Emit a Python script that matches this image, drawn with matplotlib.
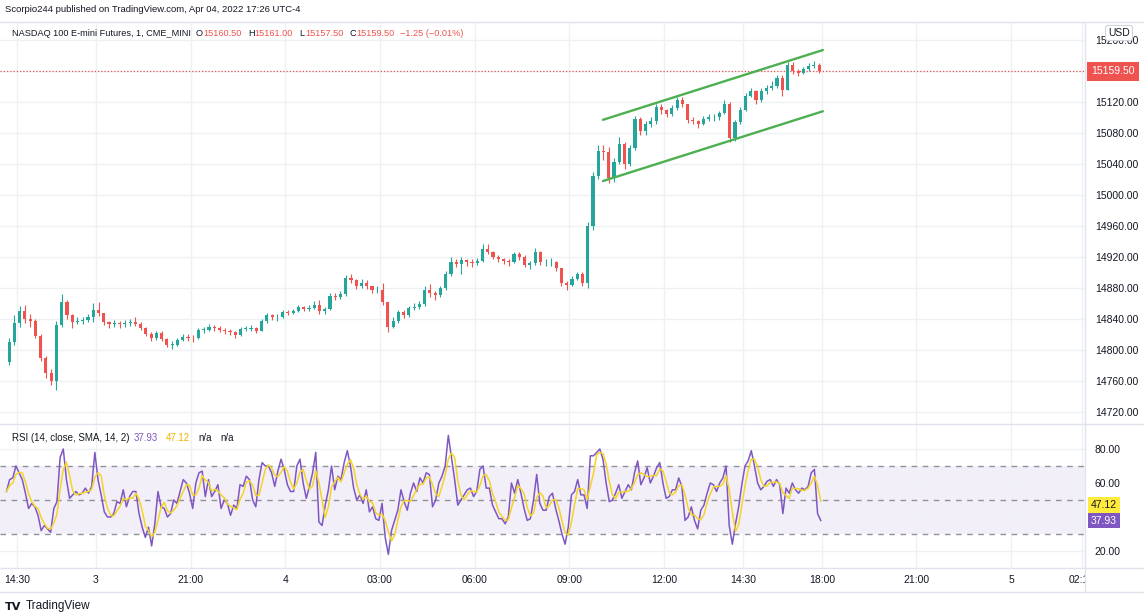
import numpy as np
import pandas as pd
import matplotlib
matplotlib.use("Agg")
import matplotlib.pyplot as plt
from matplotlib.lines import Line2D
from matplotlib.patches import Rectangle

plt.rcParams['font.family'] = ['Liberation Sans', 'DejaVu Sans']

# ---------------- data ----------------
publish_line = "Scorpio244 published on TradingView.com, Apr 04, 2022 17:26 UTC-4"
symbol_title = "NASDAQ 100 E-mini Futures, 1, CME_MINI"
ohlc_last = ["15160.50", "15161.00", "15157.50", "15159.50"]
change_text = "\u22121.25 (\u22120.01%)"
last_price = 15159.50

# 10-minute candles, time in session minutes from Fri 14:30 (weekend gap removed)
bar_minutes = 10
first_bar_start = -20
first_open = 14784
closes = [
    14810, 14835, 14850, 14840, 14838, 14818, 14790, 14770, 14760, 14832,
    14862, 14845, 14836, 14838, 14839, 14843, 14852, 14848, 14836, 14834,
    14835, 14833, 14835, 14836, 14834, 14829, 14821, 14815, 14822, 14814,
    14807, 14807, 14813, 14817, 14816, 14815, 14826, 14826, 14830, 14828,
    14826, 14825, 14823, 14819, 14827, 14827, 14828, 14825, 14837, 14845,
    14842, 14842, 14849, 14848, 14850, 14855, 14853, 14854, 14858, 14850,
    14853, 14870, 14869, 14872, 14893, 14890, 14882, 14887, 14882, 14877,
    14878, 14862, 14830, 14838, 14849, 14845, 14854, 14856, 14859, 14878,
    14874, 14871, 14880, 14898, 14914, 14911, 14916, 14913, 14912, 14915,
    14930, 14927, 14920, 14917, 14915, 14914, 14924, 14920, 14910, 14912,
    14927, 14913, 14913, 14913, 14906, 14887, 14884, 14892, 14898, 14887,
    14960, 15025, 15057, 15055, 15022, 15043, 15066, 15040, 15060, 15098,
    15083, 15091, 15095, 15114, 15110, 15104, 15112, 15123, 15117, 15097,
    15095, 15091, 15098, 15100, 15101, 15106, 15118, 15073, 15094, 15110,
    15128, 15134, 15122, 15134, 15138, 15141, 15151, 15136, 15168, 15160,
    15157, 15162, 15166, 15168, 15159.5,
]
highs = [
    14815, 14845, 14857, 14858, 14846, 14840, 14820, 14792, 14776, 14838,
    14872, 14864, 14846, 14843, 14843, 14846, 14860, 14862, 14848, 14838,
    14839, 14838, 14839, 14840, 14842, 14836, 14830, 14823, 14825, 14824,
    14816, 14811, 14816, 14821, 14820, 14819, 14829, 14830, 14834, 14832,
    14831, 14829, 14827, 14824, 14830, 14831, 14832, 14830, 14840, 14848,
    14847, 14846, 14852, 14852, 14853, 14858, 14857, 14858, 14863, 14864,
    14856, 14873, 14874, 14876, 14897, 14898, 14892, 14891, 14890, 14883,
    14882, 14887, 14862, 14842, 14852, 14852, 14857, 14860, 14863, 14882,
    14885, 14876, 14883, 14902, 14920, 14917, 14920, 14918, 14917, 14919,
    14937, 14937, 14928, 14922, 14919, 14917, 14927, 14926, 14922, 14915,
    14931, 14928, 14917, 14919, 14915, 14906, 14889, 14896, 14901, 14901,
    14965, 15030, 15064, 15065, 15062, 15048, 15075, 15068, 15064, 15102,
    15100, 15095, 15100, 15118, 15117, 15111, 15116, 15127, 15127, 15118,
    15100, 15097, 15102, 15104, 15105, 15109, 15122, 15120, 15097, 15114,
    15132, 15138, 15136, 15138, 15142, 15147, 15155, 15155, 15172, 15171,
    15162, 15165, 15170, 15173, 15170,
]
lows = [
    14780, 14806, 14830, 14835, 14830, 14815, 14786, 14764, 14755, 14749,
    14830, 14840, 14829, 14833, 14834, 14836, 14836, 14844, 14832, 14829,
    14830, 14829, 14830, 14831, 14831, 14826, 14818, 14812, 14813, 14811,
    14804, 14801, 14805, 14811, 14812, 14810, 14814, 14822, 14825, 14824,
    14823, 14821, 14819, 14816, 14818, 14824, 14825, 14822, 14824, 14835,
    14839, 14838, 14841, 14845, 14846, 14849, 14850, 14850, 14853, 14847,
    14847, 14852, 14865, 14866, 14870, 14886, 14879, 14880, 14879, 14873,
    14873, 14858, 14823, 14828, 14835, 14841, 14843, 14851, 14853, 14857,
    14869, 14864, 14869, 14877, 14896, 14907, 14898, 14909, 14907, 14910,
    14913, 14924, 14917, 14914, 14911, 14909, 14912, 14916, 14907, 14905,
    14910, 14910, 14909, 14909, 14902, 14883, 14878, 14882, 14890, 14882,
    14880, 14955, 15020, 15045, 15015, 15017, 15040, 15033, 15038, 15058,
    15078, 15078, 15088, 15092, 15105, 15100, 15102, 15110, 15113, 15093,
    15091, 15087, 15090, 15095, 15096, 15097, 15105, 15068, 15070, 15092,
    15108, 15126, 15118, 15120, 15130, 15136, 15138, 15128, 15136, 15156,
    15154, 15156, 15160, 15164, 15157.5,
]

# rising channel (trend lines drawn by the author)
channel_times = [1114, 1532]
channel_upper = [15097, 15187]
channel_lower = [15018, 15108]

# RSI sampled every 6 minutes
rsi_step = 6
rsi_start = -20
rsi_values = [
    55, 62, 63, 70, 66, 62, 54, 45, 48, 46,
    41, 32, 35, 33, 31, 45, 49, 75, 80, 62,
    51, 53, 55, 53, 54, 57, 54, 58, 78, 62,
    53, 43, 40, 40, 42, 49, 48, 56, 46, 52,
    55, 55, 42, 34, 28, 34, 23, 36, 55, 46,
    45, 40, 42, 50, 48, 55, 62, 60, 54, 45,
    60, 66, 67, 52, 62, 52, 55, 59, 45, 50,
    48, 41, 47, 45, 59, 58, 64, 62, 50, 46,
    62, 72, 70, 70, 66, 58, 67, 74, 68, 59,
    55, 55, 70, 74, 60, 51, 58, 66, 78, 37,
    35, 47, 56, 70, 56, 64, 62, 72, 79, 70,
    57, 50, 53, 48, 56, 43, 46, 39, 38, 48,
    28, 18, 32, 38, 44, 56, 49, 44, 54, 60,
    55, 63, 60, 66, 65, 46, 50, 60, 64, 70,
    88, 75, 62, 47, 50, 53, 56, 57, 52, 55,
    68, 70, 57, 57, 47, 43, 39, 39, 36, 40,
    60, 54, 62, 54, 45, 38, 39, 50, 65, 48,
    44, 44, 52, 54, 45, 38, 30, 24, 34, 53,
    55, 62, 53, 53, 45, 76, 76, 78, 80, 74,
    60, 49, 50, 54, 59, 51, 55, 59, 56, 66,
    73, 59, 63, 69, 60, 64, 69, 72, 60, 51,
    52, 56, 56, 63, 58, 38, 40, 46, 38, 33,
    44, 47, 54, 60, 59, 55, 60, 63, 70, 35,
    24, 36, 46, 59, 70, 73, 79, 70, 60, 56,
    58, 61, 62, 58, 62, 59, 42, 57, 54, 60,
    56, 54, 57, 56, 58, 66, 68, 42, 37.93,
]
sma_window = 3
rsi_last_text = "37.93"
sma_last_text = "47.12"
sma_last = 47.12
rsi_last = 37.93
rsi_title = "RSI (14, close, SMA, 14, 2)"

price_ticks = [14720, 14760, 14800, 14840, 14880, 14920, 14960,
               15000, 15040, 15080, 15120, 15160, 15200]
price_tick_labels = ["14720.00", "14760.00", "14800.00", "14840.00", "14880.00",
                     "14920.00", "14960.00", "15000.00", "15040.00", "15080.00",
                     "15120.00", "", "15200.00"]
rsi_ticks = [20, 40, 60, 80]
rsi_tick_labels = ["20.00", "", "60.00", "80.00"]
rsi_levels = [70, 50, 30]

time_ticks = [0, 150, 330, 510, 690, 870, 1050, 1230, 1380, 1530, 1710, 1890, 2025]
time_labels = ["14:30", "3", "21:00", "4", "03:00", "06:00", "09:00", "12:00",
               "14:30", "18:00", "21:00", "5", "02:15"]

# ---------------- style ----------------
UP, DOWN = '#26a69a', '#ef5350'
TXT = '#131722'
GRID = '#eef0f4'
BORDER = '#e0e3eb'
PURPLE = '#7e57c2'
YELLOW = '#f5d327'
FS = 7.5

W, H = 1144, 616
PANE_TOP, PANE_SEP, PANE_BOT, AXIS_BOT, SCALE_X = 22, 424, 568, 592, 1085

fig = plt.figure(figsize=(W / 100, H / 100), dpi=100)
fig.patch.set_facecolor('white')
ax = fig.add_axes([0, 1 - PANE_SEP / H, SCALE_X / W, (PANE_SEP - PANE_TOP) / H])
ax2 = fig.add_axes([0, 1 - PANE_BOT / H, SCALE_X / W, (PANE_BOT - PANE_SEP) / H], sharex=ax)

for a in (ax, ax2):
    for s in a.spines.values():
        s.set_visible(False)
    a.set_facecolor('white')
    a.grid(True, color=GRID, lw=1)
    a.set_axisbelow(True)
    a.yaxis.tick_right()
    a.tick_params(axis='y', length=0, pad=7, labelsize=FS, labelcolor=TXT)

ax.set_xlim(-32.3, 2030.4)
ax.set_ylim(14704.5, 15223.2)
ax2.set_ylim(10, 94.7)

ax.set_yticks(price_ticks)
ax.set_yticklabels(price_tick_labels)
ax.tick_params(axis='x', length=0, labelbottom=False)
ax2.set_yticks(rsi_ticks)
ax2.set_yticklabels(rsi_tick_labels)
ax2.set_xticks(time_ticks)
ax2.set_xticklabels(time_labels)
ax2.tick_params(axis='x', length=0, pad=5, labelsize=FS, labelcolor=TXT)

# ---------------- candles ----------------
c = np.array(closes, dtype=float)
hi = np.array(highs, dtype=float)
lo = np.array(lows, dtype=float)
o = np.r_[first_open, c[:-1]]
hi = np.maximum(hi, np.maximum(o, c))
lo = np.minimum(lo, np.minimum(o, c))
t = first_bar_start + bar_minutes * np.arange(len(c)) + bar_minutes / 2
cols = np.where(c >= o, UP, DOWN)
ax.vlines(t, lo, hi, colors=cols, lw=0.8, zorder=2)
body = np.maximum(np.abs(c - o), 0.8)
ax.bar(t, body, bottom=np.minimum(o, c), width=bar_minutes * 0.6,
       color=cols, lw=0, zorder=3)

ax.axhline(last_price, color=DOWN, lw=0.9, ls=(0, (1, 1.6)), zorder=1)
ax.plot(channel_times, channel_upper, color='#4caf50', lw=1.7, zorder=4, solid_capstyle='round')
ax.plot(channel_times, channel_lower, color='#4caf50', lw=1.7, zorder=4, solid_capstyle='round')

ax.text((1091) / SCALE_X, last_price, ohlc_last[3], transform=ax.get_yaxis_transform(),
        ha='left', va='center', color='white', fontsize=FS, clip_on=False, zorder=6,
        bbox=dict(boxstyle='square,pad=0.4', fc=DOWN, ec='none'))

# ---------------- RSI ----------------
rv = np.array(rsi_values, dtype=float)
rt = rsi_start + rsi_step * np.arange(len(rv))
sma = pd.Series(rv).rolling(sma_window, min_periods=1).mean().to_numpy()
ax2.axhspan(min(rsi_levels), max(rsi_levels), color=PURPLE, alpha=0.09, lw=0, zorder=0.5)
for lvl in rsi_levels:
    ax2.axhline(lvl, color='#8f929b', lw=1, ls=(0, (4, 4)), zorder=1)
ax2.plot(rt, rv, color=PURPLE, lw=1.1, zorder=3)
ax2.plot(rt, sma, color=YELLOW, lw=1.1, zorder=4)

ax2.text(1091 / SCALE_X, sma_last, sma_last_text, transform=ax2.get_yaxis_transform(),
         ha='left', va='center', color=TXT, fontsize=FS, clip_on=False, zorder=6,
         bbox=dict(boxstyle='square,pad=0.28', fc='#ffeb3b', ec='none'))
ax2.text(1091 / SCALE_X, rsi_last, rsi_last_text, transform=ax2.get_yaxis_transform(),
         ha='left', va='center', color='white', fontsize=FS, clip_on=False, zorder=6,
         bbox=dict(boxstyle='square,pad=0.28', fc=PURPLE, ec='none'))

# ---------------- header texts ----------------
def text_row(host, parts, x_px, y_px, size):
    first_s, first_c = parts[0][0], parts[0][1]
    prev = host.text(x_px / W, 1 - y_px / H, first_s, color=first_c, fontsize=size,
                     ha='left', va='center', transform=fig.transFigure, clip_on=False,
                     zorder=7)
    for s, col, gap in parts[1:]:
        prev = host.annotate(s, xy=(1, 0), xycoords=prev, xytext=(gap, 0),
                             textcoords='offset points', ha='left', va='bottom',
                             color=col, fontsize=size, annotation_clip=False,
                             clip_on=False, zorder=7)
    return prev

fig.text(5 / W, 1 - 10 / H, publish_line, color=TXT, fontsize=6.8, ha='left', va='center')
text_row(ax, [(symbol_title, TXT),
              ("O", TXT, 3.5), (ohlc_last[0], DOWN, 0.3),
              ("H", TXT, 4.5), (ohlc_last[1], DOWN, 0.3),
              ("L", TXT, 4.5), (ohlc_last[2], DOWN, 0.3),
              ("C", TXT, 4.5), (ohlc_last[3], DOWN, 0.3),
              (change_text, DOWN, 3.5)], 12, 33, 6.6)
text_row(ax2, [(rsi_title, TXT),
               (rsi_last_text, PURPLE, 3), (sma_last_text, '#f0b400', 6),
               ("n/a", TXT, 6), ("n/a", TXT, 6)], 12, 438, 7.0)

fig.text(1119 / W, 1 - 33 / H, "USD", color=TXT, fontsize=FS, ha='center', va='center',
         zorder=7, bbox=dict(boxstyle='round,pad=0.25', fc='white', ec='#d1d4dc', lw=0.8))

# logo
logo = fig.text(5 / W, 1 - 607 / H, "TV", color=TXT, fontsize=8, fontweight='heavy',
                family='DejaVu Sans', ha='left', va='center')
ax2.annotate("TradingView", xy=(1, 0), xycoords=logo, xytext=(3, 0),
             textcoords='offset points', ha='left', va='bottom', color=TXT,
             fontsize=8.5, annotation_clip=False)

# cover the part of the last time label under the price scale
fig.add_artist(Rectangle((SCALE_X / W, 1 - AXIS_BOT / H), (W - SCALE_X) / W,
                         (AXIS_BOT - PANE_BOT) / H, transform=fig.transFigure,
                         facecolor='white', edgecolor='none', zorder=5))

# borders
def hline(y):
    fig.add_artist(Line2D([0, 1], [1 - y / H] * 2, transform=fig.transFigure,
                          color=BORDER, lw=1, zorder=8))

for yy in (PANE_TOP, PANE_SEP, PANE_BOT, AXIS_BOT):
    hline(yy)
fig.add_artist(Line2D([SCALE_X / W] * 2, [1 - AXIS_BOT / H, 1 - PANE_TOP / H],
                      transform=fig.transFigure, color=BORDER, lw=1, zorder=8))

fig.savefig("out.png", dpi=100)
